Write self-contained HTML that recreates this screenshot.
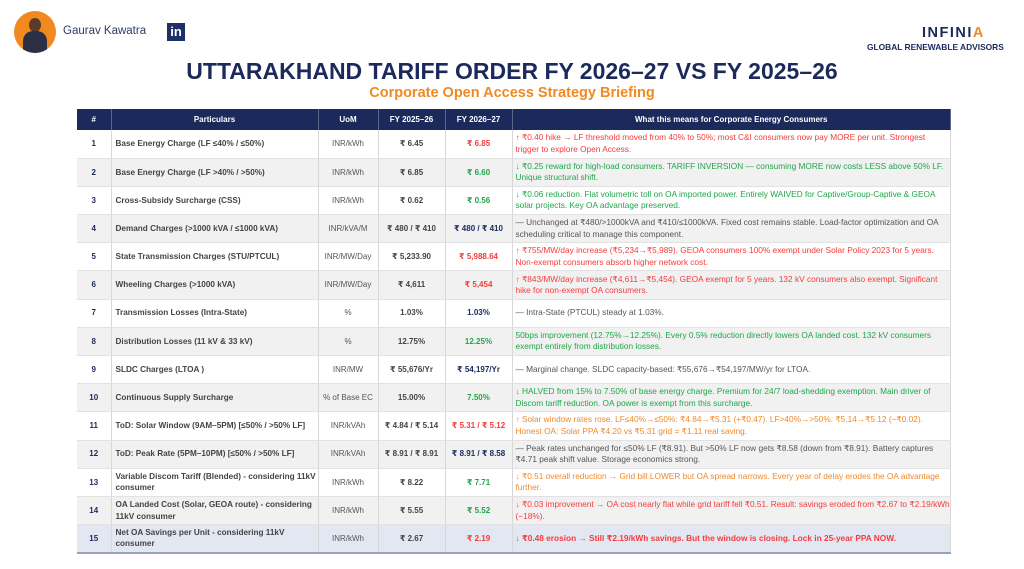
<!DOCTYPE html>
<html><head><meta charset="utf-8"><style>
*{margin:0;padding:0;box-sizing:border-box}
body{width:1024px;height:569px;background:#fff;font-family:"Liberation Sans","DejaVu Sans",sans-serif;position:relative;overflow:hidden}
.abs{position:absolute}
table{position:absolute;left:77px;top:109px;width:874px;border-collapse:collapse;table-layout:fixed;font-size:8px}
th{background:#1b2a5b;color:#fff;font-weight:bold;height:21px;border-right:1px solid #5a668a;font-size:8px;text-align:center}
td{height:28.2px;border-right:1px solid #d8d8d8;border-bottom:1px solid #e2e2e2;vertical-align:middle;line-height:11.5px}
tr:nth-child(odd) td{background:#f1f1f1}
td.n{text-align:center;color:#1b2a5b;font-weight:bold}
td.p{color:#444;font-weight:bold;padding-left:4px;font-size:8.2px}
td.u{text-align:center;color:#555}
td.a{text-align:center;color:#444;font-weight:bold}
td.b{text-align:center;font-weight:bold}
td.w{padding-left:3px;font-size:8.3px}
.r{color:#f53c3c}.g{color:#1fa64a}.o{color:#f0892a}.k{color:#555}.nv{color:#1b2a5b}
tr.last td{background:#e3e7f1 !important;border-bottom:2px solid #9aa3bb}
</style></head><body>
<div class="abs" style="left:14px;top:11px;width:42px;height:42px;border-radius:50%;background:#f0891f;overflow:hidden">
 <div class="abs" style="left:15px;top:7px;width:12px;height:14px;border-radius:50%;background:#5a3a28"></div>
 <div class="abs" style="left:9px;top:20px;width:24px;height:26px;border-radius:10px 10px 0 0;background:#2b3045"></div>
</div>
<div class="abs" style="left:63px;top:25px;font-size:11.5px;color:#2f3d62">Gaurav Kawatra</div>
<div class="abs" style="left:167px;top:23px;width:18px;height:18px;background:#1f3068;color:#fff;font-weight:bold;font-size:13px;line-height:18px;text-align:center">in</div>
<div class="abs" style="left:922px;top:25px;font-size:14.5px;font-weight:bold;color:#1b2a5b;letter-spacing:1.5px">INFINI<span style="color:#f0891f">A</span></div>
<div class="abs" style="left:867px;top:42px;font-size:8.4px;font-weight:bold;color:#1b2a5b">GLOBAL RENEWABLE ADVISORS</div>
<div class="abs" style="left:0;width:1024px;top:58px;text-align:center;font-size:23px;font-weight:bold;color:#1b2a5b">UTTARAKHAND TARIFF ORDER FY 2026–27 VS FY 2025–26</div>
<div class="abs" style="left:0;width:1024px;top:85px;text-align:center;font-size:14.5px;font-weight:bold;color:#f0891f">Corporate Open Access Strategy Briefing</div>
<table>
<colgroup><col style="width:34px"><col style="width:207px"><col style="width:60px"><col style="width:67px"><col style="width:67px"><col></colgroup>
<tr><th>#</th><th>Particulars</th><th>UoM</th><th>FY 2025–26</th><th>FY 2026–27</th><th>What this means for Corporate Energy Consumers</th></tr>
<tr><td class="n">1</td><td class="p">Base Energy Charge (LF ≤40% / ≤50%)</td><td class="u">INR/kWh</td><td class="a">₹ 6.45</td><td class="b r">₹ 6.85</td><td class="w r">↑ ₹0.40 hike → LF threshold moved from 40% to 50%; most C&amp;I consumers now pay MORE per unit. Strongest trigger to explore Open Access.</td></tr>
<tr><td class="n">2</td><td class="p">Base Energy Charge (LF &gt;40% / &gt;50%)</td><td class="u">INR/kWh</td><td class="a">₹ 6.85</td><td class="b g">₹ 6.60</td><td class="w g">↓ ₹0.25 reward for high-load consumers. TARIFF INVERSION — consuming MORE now costs LESS above 50% LF. Unique structural shift.</td></tr>
<tr><td class="n">3</td><td class="p">Cross-Subsidy Surcharge (CSS)</td><td class="u">INR/kWh</td><td class="a">₹ 0.62</td><td class="b g">₹ 0.56</td><td class="w g">↓ ₹0.06 reduction. Flat volumetric toll on OA imported power. Entirely WAIVED for Captive/Group-Captive &amp; GEOA solar projects. Key OA advantage preserved.</td></tr>
<tr><td class="n">4</td><td class="p">Demand Charges (&gt;1000 kVA / ≤1000 kVA)</td><td class="u">INR/kVA/M</td><td class="a">₹ 480 / ₹ 410</td><td class="b nv">₹ 480 / ₹ 410</td><td class="w k">— Unchanged at ₹480/&gt;1000kVA and ₹410/≤1000kVA. Fixed cost remains stable. Load-factor optimization and OA scheduling critical to manage this component.</td></tr>
<tr><td class="n">5</td><td class="p">State Transmission Charges (STU/PTCUL)</td><td class="u">INR/MW/Day</td><td class="a">₹ 5,233.90</td><td class="b r">₹ 5,988.64</td><td class="w r">↑ ₹755/MW/day increase (₹5,234→₹5,989). GEOA consumers 100% exempt under Solar Policy 2023 for 5 years. Non-exempt consumers absorb higher network cost.</td></tr>
<tr><td class="n">6</td><td class="p">Wheeling Charges (&gt;1000 kVA)</td><td class="u">INR/MW/Day</td><td class="a">₹ 4,611</td><td class="b r">₹ 5,454</td><td class="w r">↑ ₹843/MW/day increase (₹4,611→₹5,454). GEOA exempt for 5 years. 132 kV consumers also exempt. Significant hike for non-exempt OA consumers.</td></tr>
<tr><td class="n">7</td><td class="p">Transmission Losses (Intra-State)</td><td class="u">%</td><td class="a">1.03%</td><td class="b nv">1.03%</td><td class="w k">— Intra-State (PTCUL) steady at 1.03%.</td></tr>
<tr><td class="n">8</td><td class="p">Distribution Losses (11 kV &amp; 33 kV)</td><td class="u">%</td><td class="a">12.75%</td><td class="b g">12.25%</td><td class="w g">50bps improvement (12.75%→12.25%). Every 0.5% reduction directly lowers OA landed cost. 132 kV consumers exempt entirely from distribution losses.</td></tr>
<tr><td class="n">9</td><td class="p">SLDC Charges (LTOA )</td><td class="u">INR/MW</td><td class="a">₹ 55,676/Yr</td><td class="b nv">₹ 54,197/Yr</td><td class="w k">— Marginal change. SLDC capacity-based: ₹55,676→₹54,197/MW/yr for LTOA.</td></tr>
<tr><td class="n">10</td><td class="p">Continuous Supply Surcharge</td><td class="u">% of Base EC</td><td class="a">15.00%</td><td class="b g">7.50%</td><td class="w g">↓ HALVED from 15% to 7.50% of base energy charge. Premium for 24/7 load-shedding exemption. Main driver of Discom tariff reduction. OA power is exempt from this surcharge.</td></tr>
<tr><td class="n">11</td><td class="p">ToD: Solar Window (9AM–5PM) [≤50% / &gt;50% LF]</td><td class="u">INR/kVAh</td><td class="a">₹ 4.84 / ₹ 5.14</td><td class="b r">₹ 5.31 / ₹ 5.12</td><td class="w o">↑ Solar window rates rose. LF≤40%→≤50%: ₹4.84→₹5.31 (+₹0.47). LF&gt;40%→&gt;50%: ₹5.14→₹5.12 (−₹0.02). Honest OA: Solar PPA ₹4.20 vs ₹5.31 grid = ₹1.11 real saving.</td></tr>
<tr><td class="n">12</td><td class="p">ToD: Peak Rate (5PM–10PM) [≤50% / &gt;50% LF]</td><td class="u">INR/kVAh</td><td class="a">₹ 8.91 / ₹ 8.91</td><td class="b nv">₹ 8.91 / ₹ 8.58</td><td class="w k">— Peak rates unchanged for ≤50% LF (₹8.91). But &gt;50% LF now gets ₹8.58 (down from ₹8.91). Battery captures ₹4.71 peak shift value. Storage economics strong.</td></tr>
<tr><td class="n">13</td><td class="p">Variable Discom Tariff (Blended) - considering 11kV consumer</td><td class="u">INR/kWh</td><td class="a">₹ 8.22</td><td class="b g">₹ 7.71</td><td class="w o">↓ ₹0.51 overall reduction → Grid bill LOWER but OA spread narrows. Every year of delay erodes the OA advantage further.</td></tr>
<tr><td class="n">14</td><td class="p">OA Landed Cost (Solar, GEOA route) - considering 11kV consumer</td><td class="u">INR/kWh</td><td class="a">₹ 5.55</td><td class="b g">₹ 5.52</td><td class="w r">↓ ₹0.03 improvement → OA cost nearly flat while grid tariff fell ₹0.51. Result: savings eroded from ₹2.67 to ₹2.19/kWh (−18%).</td></tr>
<tr class="last"><td class="n">15</td><td class="p r">Net OA Savings per Unit - considering 11kV consumer</td><td class="u">INR/kWh</td><td class="a">₹ 2.67</td><td class="b r">₹ 2.19</td><td class="w r" style="font-weight:bold">↓ ₹0.48 erosion → Still ₹2.19/kWh savings. But the window is closing. Lock in 25-year PPA NOW.</td></tr>
</table>
</body></html>
